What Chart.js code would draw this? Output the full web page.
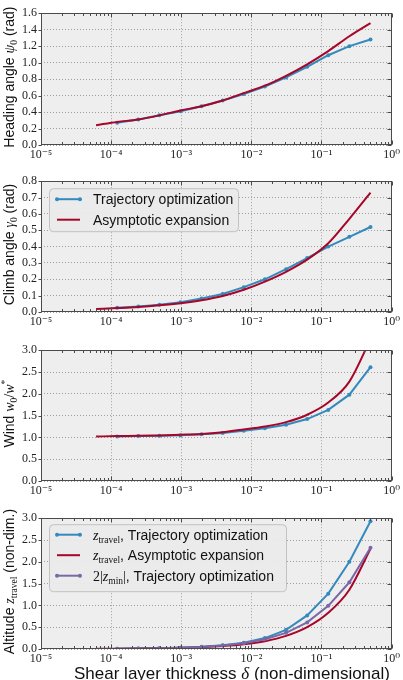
<!DOCTYPE html>
<html><head><meta charset="utf-8">
<script src="https://cdn.jsdelivr.net/npm/chart.js@4.4.0/dist/chart.umd.min.js"></script>
<style>
html,body{margin:0;padding:0;background:#fff;width:403px;height:680px;overflow:hidden;position:relative}
canvas{position:absolute;left:0}
</style></head>
<body>
<canvas id="c1" width="403" height="163" style="top:2px"></canvas>
<canvas id="c2" width="403" height="162" style="top:170px"></canvas>
<canvas id="c3" width="403" height="162" style="top:339px"></canvas>
<canvas id="c4" width="403" height="173" style="top:507px"></canvas>
<script>
// ---- data ----
const deltaAsym = [0.000061,0.000122,0.000244,0.000488,0.000977,0.00195,0.0039,0.0078,0.0156,0.03125,0.0625,0.125,0.25,0.5];
const deltaTraj = [0.000122,0.000244,0.000488,0.000977,0.00195,0.0039,0.0078,0.0156,0.03125,0.0625,0.125,0.25,0.5];

const headingTraj = [0.27,0.31,0.36,0.41,0.47,0.54,0.62,0.71,0.82,0.95,1.09,1.20,1.28];
const headingAsym = [0.24,0.28,0.31,0.36,0.42,0.47,0.54,0.63,0.72,0.84,0.98,1.14,1.32,1.48];

const climbTraj = [0.026,0.034,0.045,0.06,0.082,0.11,0.152,0.2,0.262,0.33,0.40,0.46,0.52];
const climbAsym = [0.018,0.024,0.031,0.041,0.054,0.072,0.098,0.136,0.186,0.246,0.32,0.42,0.57,0.73];

const windTraj = [1.02,1.03,1.04,1.05,1.07,1.10,1.15,1.21,1.29,1.42,1.63,1.98,2.61];
const windAsym = [1.02,1.03,1.035,1.045,1.06,1.08,1.12,1.18,1.25,1.35,1.52,1.80,2.28,3.25];

const altTravelTraj = [0.008,0.012,0.019,0.03,0.05,0.085,0.145,0.25,0.44,0.77,1.27,2.0,2.93];
const altTravelAsym = [0.004,0.006,0.01,0.016,0.026,0.042,0.068,0.11,0.18,0.3,0.5,0.83,1.36,2.3];
const altMinTraj = [0.008,0.012,0.018,0.029,0.047,0.079,0.133,0.225,0.37,0.61,0.99,1.53,2.32];

const xTickValues = [1e-5,1e-4,1e-3,1e-2,1e-1,1];
const xTickLabels = ['10⁻⁵','10⁻⁴','10⁻³','10⁻²','10⁻¹','10⁰'];

// ---- style ----
const BLUE = '#348ABD', RED = '#A60628', PURPLE = '#7A68A6';
const SANS = '"Liberation Sans", Arial, sans-serif';
const SERIF = '"Liberation Serif", "DejaVu Serif", serif';

function pts(xs, ys){ return xs.map((d,i)=>({x:d, y:ys[i]})); }
function trajSet(label, xs, ys, color, order){
  return {label, data: pts(xs,ys), borderColor: color, backgroundColor: color, borderWidth: 2,
    pointRadius: 2, pointBorderWidth: 0, pointBackgroundColor: color, tension: 0, order};
}
function asymSet(label, xs, ys, color, order){
  return {label, data: pts(xs,ys), borderColor: color, backgroundColor: color, borderWidth: 2,
    pointRadius: 0, cubicInterpolationMode: 'monotone', tension: 0.4, order};
}

function richWidth(ctx, segs){ let w=0; for(const s of segs){ ctx.font=s.f; w+=ctx.measureText(s.t).width; } return w; }
function drawRich(ctx, segs, x, y, align){
  let cx = align==='center' ? x - richWidth(ctx,segs)/2 : x;
  ctx.textBaseline='alphabetic'; ctx.textAlign='left';
  for(const s of segs){ ctx.font=s.f; ctx.fillText(s.t, cx, y+(s.dy||0)); cx += ctx.measureText(s.t).width; }
}
const f = {
  sans: '14px '+SANS, it: 'italic 14px '+SERIF, sub: '9.5px '+SERIF, ser: '14px '+SERIF,
  xsans: '17px '+SANS, xit: 'italic 17px '+SERIF,
  lsans: '14px '+SANS, lit: 'italic 14px '+SERIF, lsub: '9.5px '+SERIF, lser: '14px '+SERIF
};

function makeChart(id, cfg){
  const deco = {
    id: 'deco'+id,
    beforeDraw(chart){
      const {ctx, chartArea:a} = chart;
      ctx.save(); ctx.fillStyle='#eeeeee'; ctx.fillRect(a.left,a.top,a.right-a.left,a.bottom-a.top); ctx.restore();
    },
    afterDraw(chart){
      const {ctx, chartArea:a, scales:{x,y}} = chart;
      ctx.save();
      ctx.strokeStyle='#4a4a4a'; ctx.lineWidth=1;
      const L=Math.round(a.left)+0.5, R=Math.round(a.right)-0.5, T=Math.round(a.top)+0.5, B=Math.round(a.bottom)-0.5;
      ctx.strokeRect(L, T, R-L, B-T);
      ctx.beginPath();
      for(let d=-5; d<=0; d++){
        const px = Math.round(x.getPixelForValue(Math.pow(10,d)))+0.5;
        ctx.moveTo(px,B); ctx.lineTo(px,B-4); ctx.moveTo(px,T); ctx.lineTo(px,T+4);
        if(d<0){
          for(let k=2;k<=9;k++){
            const p = Math.round(x.getPixelForValue(k*Math.pow(10,d)))+0.5;
            ctx.moveTo(p,B); ctx.lineTo(p,B-2.5); ctx.moveTo(p,T); ctx.lineTo(p,T+2.5);
          }
        }
      }
      for(const t of y.ticks){
        const py = Math.round(y.getPixelForValue(t.value))+0.5;
        ctx.moveTo(L-3,py); ctx.lineTo(L,py); ctx.moveTo(R,py); ctx.lineTo(R-4,py);
      }
      ctx.stroke();
      // y title
      ctx.fillStyle='#111';
      ctx.save(); ctx.translate(14,(a.top+a.bottom)/2 - 2); ctx.rotate(-Math.PI/2);
      drawRich(ctx, cfg.yTitle, 0, 0, 'center'); ctx.restore();
      // x title
      if(cfg.xTitle){ drawRich(ctx, cfg.xTitle.segs, cfg.xTitle.cx, cfg.xTitle.base, 'center'); }
      // legend
      if(cfg.legend){
        const lg = cfg.legend;
        const bx=a.left+lg.dx+0.5, by=a.top+lg.dy+0.5;
        ctx.fillStyle='rgba(234,234,234,0.95)'; ctx.strokeStyle='#c2c2c2'; ctx.lineWidth=1;
        ctx.beginPath(); ctx.roundRect(bx,by,lg.w,lg.h,4); ctx.fill(); ctx.stroke();
        lg.rows.forEach((r,i)=>{
          const cy = by + lg.first + i*lg.gap;
          const x0 = a.left+16, x1 = a.left+39;
          ctx.strokeStyle=r.color; ctx.lineWidth=2; ctx.beginPath(); ctx.moveTo(x0,cy); ctx.lineTo(x1,cy); ctx.stroke();
          if(r.marker){ ctx.fillStyle=r.color; for(const px of [x0,x1]){ ctx.beginPath(); ctx.arc(px,cy,2,0,Math.PI*2); ctx.fill(); } }
          ctx.fillStyle='#111';
          drawRich(ctx, r.segs, a.left+52, cy+5, 'left');
        });
      }
      ctx.restore();
    }
  };
  const gridCommon = {color:'#a0a0a0', lineWidth:1, drawTicks:false, borderDash:[1,2]};
  return new Chart(document.getElementById(id), {
    type:'line',
    data:{datasets: cfg.datasets},
    options:{
      responsive:false, animation:false, devicePixelRatio:1,
      layout:{padding:{left:0,right:11,top:10,bottom:0}},
      plugins:{legend:{display:false}, tooltip:{enabled:false}},
      scales:{
        x:{type:'logarithmic', min:1e-5, max:1,
           afterBuildTicks(s){ s.ticks = xTickValues.map(v=>({value:v})); },
           afterFit(s){ s.height = cfg.xh; },
           ticks:{autoSkip:false, maxRotation:0, minRotation:0, padding:3, color:'#222',
                  font:{family:SERIF, size:12}, callback:(v,i)=>xTickLabels[i]},
           grid:gridCommon, border:{display:false, dash:[1,2]}},
        y:{min:cfg.ymin, max:cfg.ymax,
           afterFit(s){ s.width = 41; },
           ticks:{stepSize:cfg.step, autoSkip:false, padding:4, color:'#222', font:{family:SERIF, size:12},
                  callback:v=>Number(v).toFixed(1)},
           grid:gridCommon, border:{display:false, dash:[1,2]}}
      }
    },
    plugins:[deco]
  });
}

makeChart('c1', {
  ymin:0, ymax:1.6, step:0.2, xh:20,
  yTitle:[{t:'Heading angle ',f:f.sans},{t:'ψ',f:f.it},{t:'0',f:f.sub,dy:3},{t:' (rad)',f:f.sans}],
  datasets:[trajSet('Trajectory optimization', deltaTraj, headingTraj, BLUE, 1),
            asymSet('Asymptotic expansion', deltaAsym, headingAsym, RED, 0)]
});
makeChart('c2', {
  ymin:0, ymax:0.8, step:0.1, xh:20,
  yTitle:[{t:'Climb angle ',f:f.sans},{t:'γ',f:f.it},{t:'0',f:f.sub,dy:3},{t:' (rad)',f:f.sans}],
  datasets:[trajSet('Trajectory optimization', deltaTraj, climbTraj, BLUE, 1),
            asymSet('Asymptotic expansion', deltaAsym, climbAsym, RED, 0)],
  legend:{dx:8, dy:7, w:189, h:43, first:10.5, gap:20.5, rows:[
    {color:BLUE, marker:true, segs:[{t:'Trajectory optimization',f:f.lsans}]},
    {color:RED, marker:false, segs:[{t:'Asymptotic expansion',f:f.lsans}]}
  ]}
});
makeChart('c3', {
  ymin:0, ymax:3.0, step:0.5, xh:20,
  yTitle:[{t:'Wind ',f:f.sans},{t:'w',f:f.it},{t:'0',f:f.sub,dy:3},{t:'/',f:f.ser},{t:'w',f:f.it},{t:'*',f:f.sub,dy:-6}],
  datasets:[trajSet('Trajectory optimization', deltaTraj, windTraj, BLUE, 1),
            asymSet('Asymptotic expansion', deltaAsym, windAsym, RED, 0)]
});
makeChart('c4', {
  ymin:0, ymax:3.0, step:0.5, xh:31,
  yTitle:[{t:'Altitude ',f:f.sans},{t:'z',f:f.it},{t:'travel',f:f.sub,dy:3},{t:' (non-dim.)',f:f.sans}],
  xTitle:{cx:232, base:172, segs:[{t:'Shear layer thickness ',f:f.xsans},{t:'δ',f:f.xit},{t:' (non-dimensional)',f:f.xsans}]},
  datasets:[trajSet('z_travel, Trajectory optimization', deltaTraj, altTravelTraj, BLUE, 2),
            asymSet('z_travel, Asymptotic expansion', deltaAsym, altTravelAsym, RED, 1),
            trajSet('2|z_min|, Trajectory optimization', deltaTraj, altMinTraj, PURPLE, 0)],
  legend:{dx:8, dy:6, w:237, h:67, first:10, gap:20.5, rows:[
    {color:BLUE, marker:true, segs:[{t:'z',f:f.lit},{t:'travel',f:f.lsub,dy:3},{t:', Trajectory optimization',f:f.lsans}]},
    {color:RED, marker:false, segs:[{t:'z',f:f.lit},{t:'travel',f:f.lsub,dy:3},{t:', Asymptotic expansion',f:f.lsans}]},
    {color:PURPLE, marker:true, segs:[{t:'2|',f:f.lser},{t:'z',f:f.lit},{t:'min',f:f.lsub,dy:3},{t:'|',f:f.lser},{t:', Trajectory optimization',f:f.lsans}]}
  ]}
});
</script>
</body></html>
